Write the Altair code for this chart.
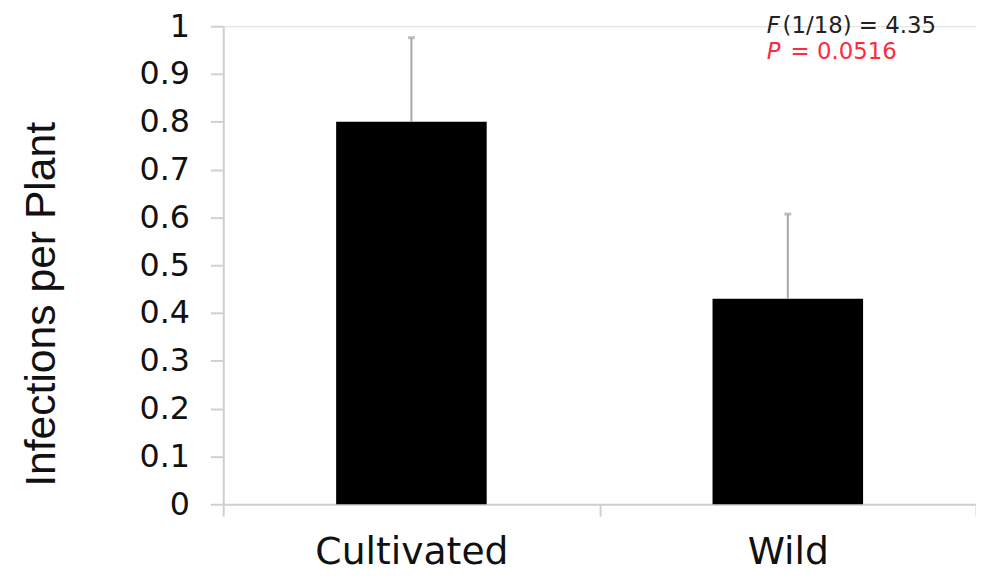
import altair as alt
import pandas as pd

categories = ["Cultivated", "Wild"]
means = [0.80, 0.43]
errors = [0.176, 0.177]

ann_italic = ["F", "P"]
ann_rest = ["(1/18) = 4.35", "= 0.0516"]
ann_colors = ["#222222", "#ff2a3a"]

y_ticks = [0, 0.1, 0.2, 0.3, 0.4, 0.5, 0.6, 0.7, 0.8, 0.9, 1.0]

df = pd.DataFrame({"group": categories, "mean": means, "err": errors})
df["upper"] = df["mean"] + df["err"]

AX = "#d0d0d0"
x_enc = alt.X(
    "group:N",
    sort=categories,
    scale=alt.Scale(paddingInner=0, paddingOuter=0),
    axis=alt.Axis(
        title=None, labelAngle=0, labelFont="DejaVu Sans", labelFontSize=38,
        labelColor="#111111", labelPadding=18, labelLimit=0, tickSize=12,
        tickColor=AX, tickWidth=2, domainColor=AX, domainWidth=2,
        tickBand="extent",
    ),
)
y_scale = alt.Scale(domain=[0, 1], nice=False)

bars = alt.Chart(df).mark_bar(color="black", width=alt.RelativeBandSize(0.4)).encode(
    x=x_enc,
    y=alt.Y(
        "mean:Q", scale=y_scale,
        axis=alt.Axis(
            values=y_ticks, format=".1~f", grid=False, title="Infections per Plant",
            titleFont="Liberation Sans", titleFontSize=43, titleFontWeight="normal",
            titleColor="#111111", titleX=-170, titleY=280, titleBaseline="alphabetic",
            labelFont="DejaVu Sans", labelFontSize=32, labelColor="#111111",
            labelPadding=21, tickSize=13, tickColor=AX, tickWidth=2,
            domainColor=AX, domainWidth=2,
        ),
    ),
)

err_rule = alt.Chart(df).mark_rule(color="#a6a6a6", strokeWidth=2).encode(
    x=alt.X("group:N", sort=categories), y="mean:Q", y2="upper:Q"
)
err_cap = alt.Chart(df).mark_tick(color="#a6a6a6", thickness=3, size=7).encode(
    x=alt.X("group:N", sort=categories), y="upper:Q"
)

t1 = alt.Chart(pd.DataFrame({"t": [ann_italic[0]]})).mark_text(
    font="DejaVu Sans", fontSize=23, fontStyle="italic", align="left",
    baseline="alphabetic", color=ann_colors[0]
).encode(text="t:N", x=alt.value(548), y=alt.value(7))
t2 = alt.Chart(pd.DataFrame({"t": [ann_rest[0]]})).mark_text(
    font="DejaVu Sans", fontSize=23, align="left", baseline="alphabetic",
    color=ann_colors[0]
).encode(text="t:N", x=alt.value(564), y=alt.value(7))
t3 = alt.Chart(pd.DataFrame({"t": [ann_italic[1]]})).mark_text(
    font="DejaVu Sans", fontSize=23, fontStyle="italic", align="left",
    baseline="alphabetic", color=ann_colors[1]
).encode(text="t:N", x=alt.value(548), y=alt.value(33))
t4 = alt.Chart(pd.DataFrame({"t": [ann_rest[1]]})).mark_text(
    font="DejaVu Sans", fontSize=23, align="left", baseline="alphabetic",
    color=ann_colors[1]
).encode(text="t:N", x=alt.value(572), y=alt.value(33))

chart = alt.layer(bars, err_rule, err_cap, t1, t2, t3, t4).properties(
    width=759, height=482,
    autosize=alt.AutoSizeParams(type="none"),
    padding={"left": 217, "top": 16, "right": 0, "bottom": 71},
).configure_view(stroke=None).configure(background="white")

chart.save("out.html", embed_options={"renderer": "svg", "actions": False})
